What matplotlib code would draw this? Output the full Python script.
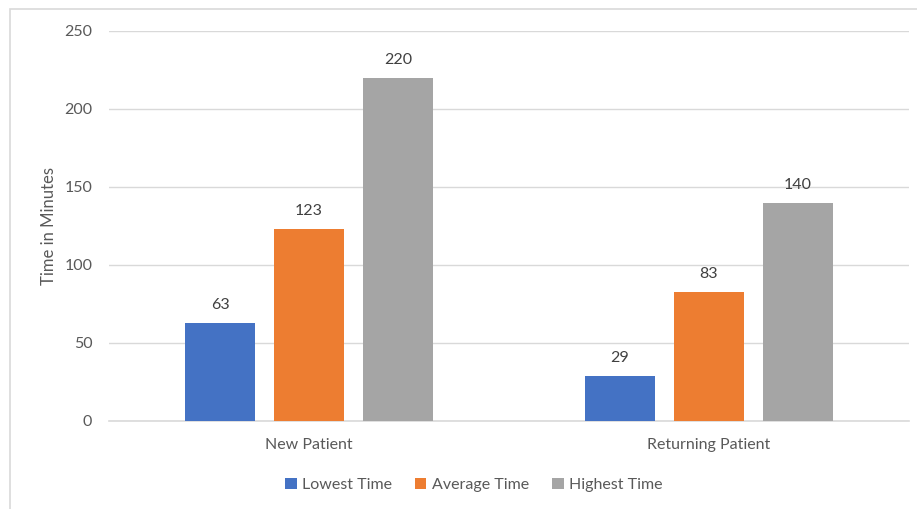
import matplotlib.pyplot as plt
from matplotlib.patches import Rectangle

categories = ['New Patient', 'Returning Patient']
series_names = ['Lowest Time', 'Average Time', 'Highest Time']
lowest = [63, 29]
average = [123, 83]
highest = [220, 140]
colors = ['#4472C4', '#ED7D31', '#A5A5A5']

plt.rcParams['font.family'] = ['Lato', 'DejaVu Sans']
text_color = '#595959'

fig = plt.figure(figsize=(9.17, 5.09), dpi=100)
ax = fig.add_axes([109 / 917, 1 - 421 / 509, 800 / 917, 390 / 509])

# chart frame (only left and top edges show)
fig.patches.append(Rectangle((10 / 917, -0.1), 1.2, 1 - 9 / 509 + 0.1,
                             transform=fig.transFigure, fill=False,
                             edgecolor='#d9d9d9', linewidth=1.2))

width = 0.175
step = 0.2225
x = range(len(categories))
for i, (name, vals) in enumerate(zip(series_names, [lowest, average, highest])):
    pos = [xi + (i - 1) * step for xi in x]
    bars = ax.bar(pos, vals, width, color=colors[i], label=name, zorder=3)
    for b, v in zip(bars, vals):
        ax.text(b.get_x() + b.get_width() / 2, v + 7, str(v),
                ha='center', va='bottom', fontsize=11.5, color='#404040')

ax.set_xlim(-0.5, 1.5)
ax.set_ylim(0, 250)
ax.set_yticks(range(0, 251, 50))
ax.set_xticks(list(x))
ax.set_xticklabels(categories)
ax.yaxis.grid(True, color='#d9d9d9', linewidth=1, zorder=0)
for s in ['top', 'right', 'left']:
    ax.spines[s].set_visible(False)
ax.spines['bottom'].set_color('#d9d9d9')
ax.spines['bottom'].set_linewidth(1.2)
ax.tick_params(axis='both', length=0, labelsize=11.5, colors=text_color)
ax.tick_params(axis='y', pad=12)
ax.tick_params(axis='x', pad=12)
ax.set_ylabel('Time in Minutes', fontsize=12, color=text_color)
ax.yaxis.set_label_coords(-52 / 800, 0.5)

fig.legend(loc='center', bbox_to_anchor=(474 / 917, 1 - 485 / 509), ncol=3,
           frameon=False, fontsize=11.5, labelcolor=text_color,
           handlelength=0.7, handleheight=0.7, handletextpad=0.35,
           columnspacing=1.45)

fig.savefig('out.png', dpi=100, facecolor='white')
